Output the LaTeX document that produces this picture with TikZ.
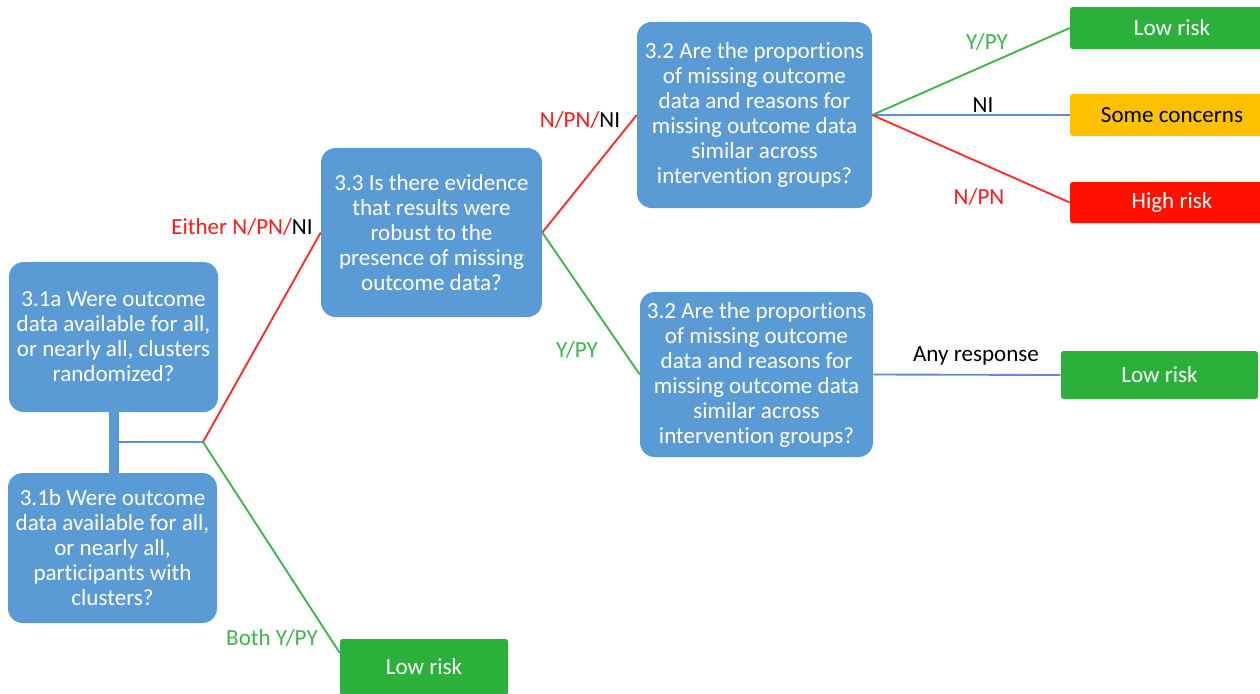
\documentclass[tikz,border=0pt]{standalone}
\usepackage{fontspec}
\setmainfont[Ligatures=NoCommon]{Carlito}
\usetikzlibrary{calc}
\definecolor{qblue}{HTML}{5B9BD5}
\definecolor{riskgreen}{HTML}{2CB03C}
\definecolor{riskamber}{HTML}{FFC000}
\definecolor{riskred}{HTML}{FF1100}
\definecolor{linered}{HTML}{FF2A2A}
\definecolor{linegreen}{HTML}{3DB54A}
\definecolor{lineblue}{HTML}{5B8FD0}
\definecolor{labgreen}{HTML}{3DB54A}
\definecolor{labred}{HTML}{FF1A1A}

\begin{document}
\begin{tikzpicture}[x=0.75pt,y=-0.75pt,
  boxsize/.style 2 args={minimum width=#1*0.75pt, minimum height=#2*0.75pt},
  question/.style={fill=qblue, draw=none, rounded corners=11pt, text=white,
    align=center, inner sep=0pt, font=\fontsize{17.3}{18.75}\selectfont},
  verdict/.style={draw=none, rounded corners=2pt, inner sep=0pt, align=center,
    font=\fontsize{17.3}{18.75}\selectfont},
  conn/.style={line width=1.4pt},
  lab/.style={inner sep=0pt, font=\fontsize{17.3}{18.75}\selectfont}
]
\useasboundingbox (0,0) rectangle (1260,693);
\clip (0,0) rectangle (1260,693);

% question boxes
\node[question, boxsize={209}{150}] (q1a) at (113.5,337)
  {3.1a Were outcome\\data available for all,\\or nearly all, clusters\\randomized?};
\node[question, boxsize={209}{150}] (q1b) at (112.5,548)
  {3.1b Were outcome\\data available for all,\\or nearly all,\\participants with\\clusters?};
\node[question, boxsize={221}{169}] (q33) at (431.5,232.5)
  {3.3 Is there evidence\\that results were\\robust to the\\presence of missing\\outcome data?};
\node[question, boxsize={235}{186}] (q32a) at (754.5,115)
  {3.2 Are the proportions\\of missing outcome\\data and reasons for\\missing outcome data\\similar across\\intervention groups?};
\node[question, boxsize={233}{165}] (q32b) at (756.5,374.5)
  {3.2 Are the proportions\\of missing outcome\\data and reasons for\\missing outcome data\\similar across\\intervention groups?};

% verdict boxes
\node[verdict, fill=riskgreen, text=white, boxsize={168}{56}] (lowA) at (424,667) {Low risk};
\node[verdict, fill=riskgreen, text=white, boxsize={204}{42}] (lowB) at (1172,28) {Low risk};
\node[verdict, fill=riskamber, text=black, boxsize={204}{42}] (some) at (1172,115) {Some concerns};
\node[verdict, fill=riskred, text=white, boxsize={204}{41}] (high) at (1172,202.5) {High risk};
\node[verdict, fill=riskgreen, text=white, boxsize={197}{48}] (lowC) at (1159.5,375) {Low risk};

% joint of 3.1a and 3.1b
\draw[qblue, line width=7.5pt] (q1a.south) -- (q1a.south |- q1b.north);
\coordinate (bar) at (118,442);
\coordinate (j) at (203,442);
\draw[lineblue, line width=1.3pt] (bar) -- (j);
\draw[linered, conn] (j) -- (q33.west);
\draw[linegreen, conn] (j) -- ($(lowA.north west)!0.25!(lowA.south west)$);

% branches of 3.3
\draw[linered, conn] (q33.east) -- (q32a.west);
\draw[linegreen, conn] (q33.east) -- (q32b.west);

% branches of 3.2
\draw[linegreen, conn] (q32a.east) -- (lowB.west);
\draw[lineblue, conn] (q32a.east) -- (some.west);
\draw[linered, conn] (q32a.east) -- (high.west);
\draw[lineblue, conn] (q32b.east) -- (lowC.west);

% answer labels
\node[lab] (lEither) at (242,227) {\textcolor{labred}{Either N/PN/}NI};
\node[lab, text=labgreen] (lBoth) at (272,638) {Both Y/PY};
\node[lab] (lNPNNI) at (580,120) {\textcolor{labred}{N/PN/}NI};
\node[lab, text=labgreen] (lYPYb) at (577,350) {Y/PY};
\node[lab, text=labgreen] (lYPYa) at (987,42) {Y/PY};
\node[lab] (lNI) at (983,105) {NI};
\node[lab, text=labred] (lNPN) at (979,197) {N/PN};
\node[lab] (lAny) at (976,356) {Any response};
\end{tikzpicture}
\end{document}
